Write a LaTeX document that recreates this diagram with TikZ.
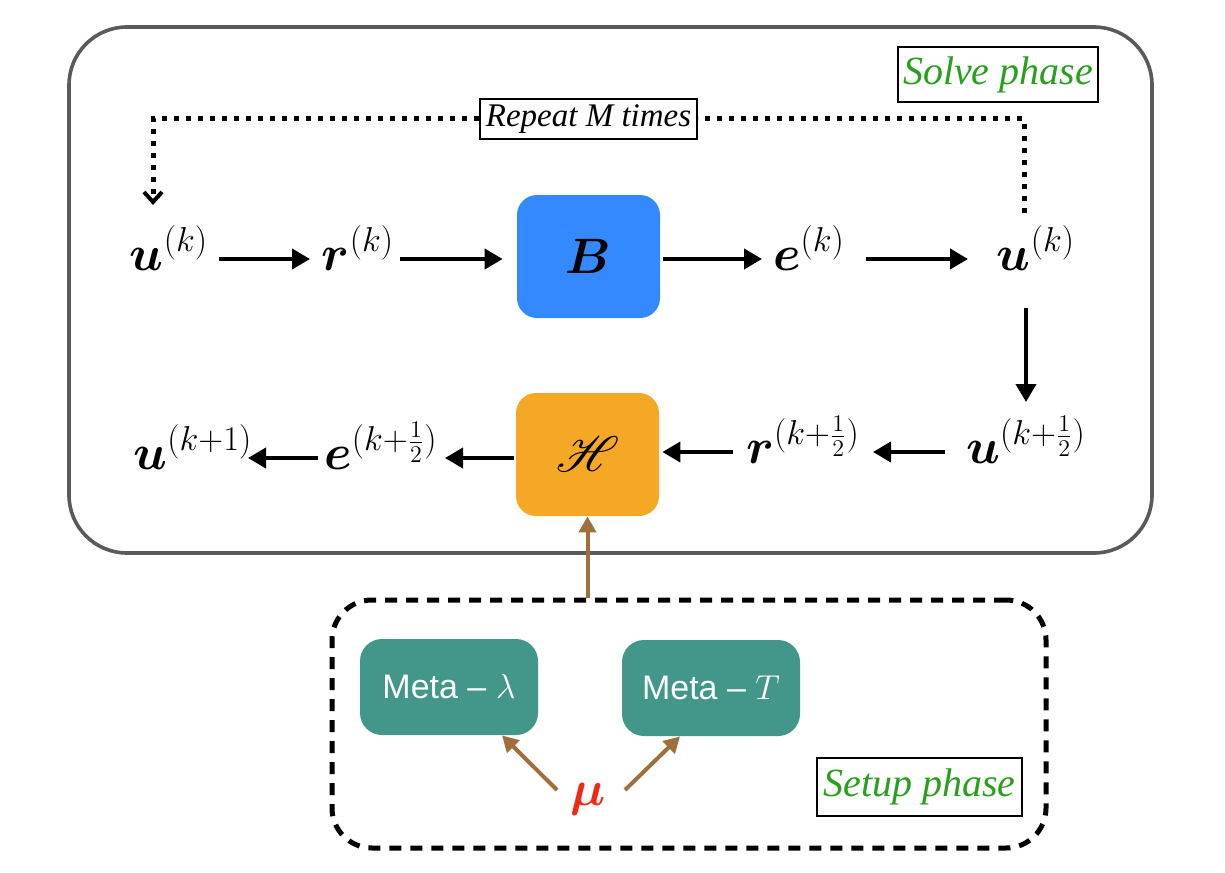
\documentclass[tikz,border=0pt]{standalone}
\usepackage{amsmath,bm,mathrsfs}
\usepackage{fontspec}
\setmainfont{Liberation Serif}
\newfontfamily\sansfam{Liberation Sans}
\usetikzlibrary{arrows.meta}
\definecolor{bblue}{RGB}{52,137,255}
\definecolor{borange}{RGB}{245,167,38}
\definecolor{teal2}{RGB}{66,150,138}
\definecolor{brown2}{RGB}{160,112,60}
\definecolor{green2}{RGB}{40,160,30}
\definecolor{mured}{RGB}{240,40,20}
\definecolor{frame}{RGB}{90,90,90}
\begin{document}
\begin{tikzpicture}[x=0.5pt,y=-0.5pt,
  lbl/.style={inner sep=0pt, text height=11pt, text depth=0pt, font=\fontsize{25}{30}\selectfont},
  opbox/.style={rounded corners=10pt, minimum width=71.5pt, minimum height=61.5pt, inner sep=0pt, font=\fontsize{25}{30}\selectfont},
  meta/.style={rounded corners=11pt, fill=teal2, minimum width=89pt, minimum height=48pt, inner sep=0pt, text=white, font=\sansfam\fontsize{17}{20}\selectfont},
  tag/.style={draw=black, line width=1pt, fill=white, inner sep=0pt},
  arr/.style={line width=2pt, -{Triangle[length=9pt,width=10pt]}},
  brarr/.style={draw=brown2, line width=2pt, -{Triangle[length=8pt,width=8.5pt]}},
  dotl/.style={line width=2.5pt, dash pattern=on 2.5pt off 3.5pt}
]
\useasboundingbox (0,0) rectangle (1225,872);

% frames
\node[draw=frame, line width=1.8pt, rounded corners=29pt, minimum width=541.5pt, minimum height=263pt] (solve) at (610.5,290) {};
\node[draw=black, line width=2.5pt, dash pattern=on 6pt off 4.5pt, rounded corners=20pt, minimum width=357pt, minimum height=124pt] (setup) at (689,724) {};

% phase labels
\node[tag, minimum width=100pt, minimum height=27.5pt, text=green2, font=\itshape\fontsize{20}{24}\selectfont] (solvelbl) at (998,74.5) {Solve phase};
\node[tag, minimum width=102.5pt, minimum height=29pt, text=green2, font=\itshape\fontsize{20}{24}\selectfont] (setuplbl) at (919.5,787) {Setup phase};

% row 1
\node[lbl] (u1) at (169,259) {$\bm{u}^{(k)}$};
\node[lbl] (r1) at (358,259) {$\bm{r}^{(k)}$};
\node[opbox, fill=bblue] (B) at (588.5,256.5) {$\bm{B}$};
\node[lbl] (e1) at (809,259) {$\bm{e}^{(k)}$};
\node[lbl] (u2) at (1036,259) {$\bm{u}^{(k)}$};

% row 2
\node[lbl] (u3) at (1026,452) {$\bm{u}^{(k+\frac{1}{2})}$};
\node[lbl] (r2) at (803,452) {$\bm{r}^{(k+\frac{1}{2})}$};
\node[opbox, fill=borange] (H) at (587.5,454.5) {$\mathscr{H}$};
\node[lbl] (e2) at (381,458) {$\bm{e}^{(k+\frac{1}{2})}$};
\node[lbl] (u4) at (193,458) {$\bm{u}^{(k+1)}$};

% setup contents
\node[meta] (ml) at (449,687) {Meta – $\lambda$};
\node[meta] (mt) at (711,688) {Meta – $T$};
\node[lbl, text=mured] (mu) at (588,794) {$\bm{\mu}$};

% repeat loop
\node[tag, minimum width=108.5pt, minimum height=20pt, font=\itshape\fontsize{16.5}{20}\selectfont] (rep) at (588.5,119) {Repeat M times};
\coordinate (lt) at (153,205);
\coordinate (rt) at (1024,213);
\draw[dotl] (rt) |- (rep.east);
\draw[dotl, -{Straight Barb[length=5pt,width=9pt,line width=2pt]}] (rep.west) -| (lt);

% solid arrows
\draw[arr, shorten <=25pt, shorten >=24pt] (u1.center) -- (r1.center);
\draw[arr, shorten <=21pt, shorten >=7pt] (r1.center) -- (r1.center -| B.west);
\draw[arr, shorten <=1.5pt, shorten >=23.5pt] (e1.center -| B.east) -- (e1.center);
\draw[arr, shorten <=28.5pt, shorten >=34pt] (e1.center) -- (u2.center);
\draw[arr, shorten <=24.5pt, shorten >=25pt] (u3.center |- u2.center) -- (u3.center);
\draw[arr, shorten <=40.5pt, shorten >=35pt] (u3.center) -- (r2.center);
\draw[arr, shorten <=35pt, shorten >=1.5pt] (r2.center) -- (r2.center -| H.east);
\draw[arr, shorten <=1pt, shorten >=32pt] (e2.center -| H.west) -- (e2.center);
\draw[arr, shorten <=31.5pt, shorten >=27.5pt] (e2.center) -- (u4.center);

% brown arrows
\draw[brarr] (setup.north -| H.south) -- (H.south);
\draw[brarr] ([xshift=-15.5pt,yshift=2pt]mu.center) -- ([xshift=26.5pt]ml.south);
\draw[brarr] ([xshift=18.5pt,yshift=2pt]mu.center) -- ([xshift=-15.5pt]mt.south);
\end{tikzpicture}
\end{document}
